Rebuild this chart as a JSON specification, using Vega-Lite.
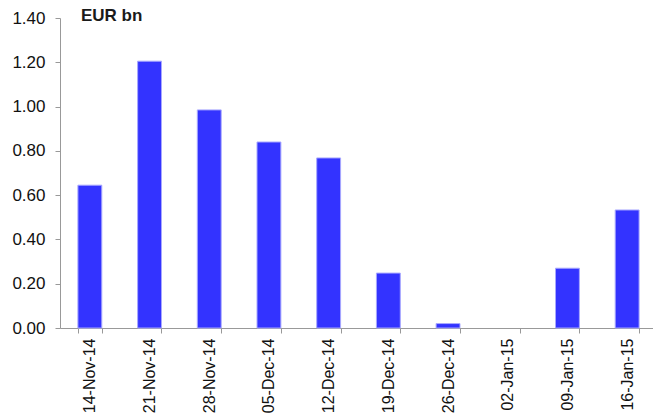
{
  "$schema": "https://vega.github.io/schema/vega-lite/v6.json",
  "autosize": "none",
  "width": 597,
  "height": 310,
  "padding": {"left": 60, "top": 18, "right": 0, "bottom": 89},
  "background": "white",
  "title": {
    "text": "EUR bn",
    "anchor": "start",
    "frame": "group",
    "orient": "top",
    "offset": -29,
    "baseline": "alphabetic",
    "dx": 21,
    "font": "Liberation Sans",
    "fontSize": 17,
    "fontWeight": "bold",
    "color": "#1a1a1a"
  },
  "data": {
    "values": [
      {"week": "14-Nov-14", "value": 0.645},
      {"week": "21-Nov-14", "value": 1.205},
      {"week": "28-Nov-14", "value": 0.985},
      {"week": "05-Dec-14", "value": 0.84},
      {"week": "12-Dec-14", "value": 0.768},
      {"week": "19-Dec-14", "value": 0.248},
      {"week": "26-Dec-14", "value": 0.02},
      {"week": "02-Jan-15", "value": 0},
      {"week": "09-Jan-15", "value": 0.27},
      {"week": "16-Jan-15", "value": 0.533}
    ]
  },
  "mark": {"type": "bar", "fill": "#3333ff", "strokeWidth": 1},
  "encoding": {
    "stroke": {
      "condition": {"test": "datum.value == 0", "value": null},
      "value": "#a8a8ff"
    },
    "x": {
      "field": "week",
      "type": "nominal",
      "sort": null,
      "title": null,
      "scale": {"paddingInner": 0.6, "paddingOuter": 0.3},
      "axis": {
        "labelAngle": -90,
        "labelFont": "Liberation Sans",
        "labelFontSize": 16,
        "labelColor": "#111",
        "labelPadding": 5,
        "tickBand": "extent",
        "tickSize": 5,
        "tickColor": "#999",
        "domainColor": "#999",
        "grid": false
      }
    },
    "y": {
      "field": "value",
      "type": "quantitative",
      "title": null,
      "scale": {"domain": [0, 1.4], "nice": false},
      "axis": {
        "values": [0, 0.2, 0.4, 0.6, 0.8, 1.0, 1.2, 1.4],
        "format": ".2f",
        "labelFont": "Liberation Sans",
        "labelFontSize": 17,
        "labelColor": "#111",
        "labelPadding": 10,
        "tickSize": 5,
        "tickColor": "#999",
        "domainColor": "#999",
        "grid": false
      }
    }
  },
  "config": {"view": {"stroke": null}}
}
